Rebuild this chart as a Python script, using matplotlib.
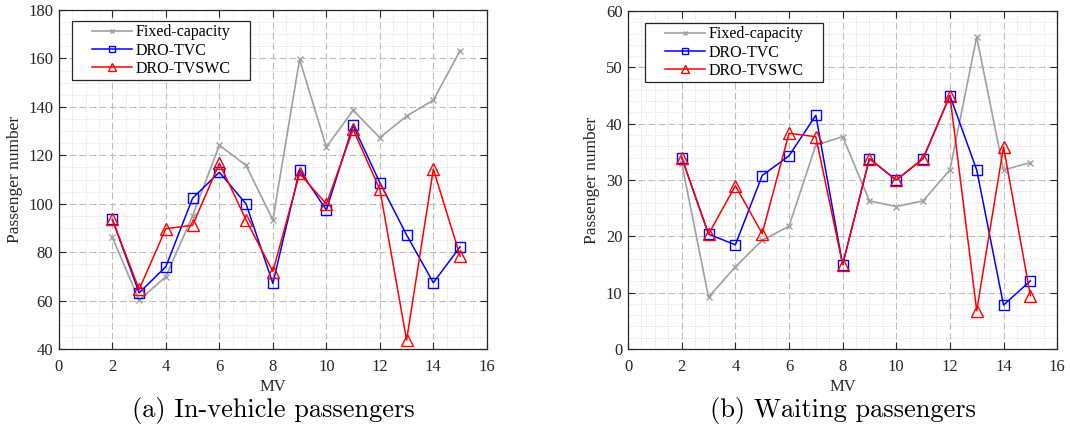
import matplotlib
matplotlib.use("Agg")
import matplotlib.pyplot as plt
from matplotlib.path import Path
from matplotlib.ticker import MultipleLocator

plt.rcParams["font.family"] = ["Liberation Serif", "DejaVu Serif"]

mv = [2, 3, 4, 5, 6, 7, 8, 9, 10, 11, 12, 13, 14, 15]

# in-vehicle passengers
inveh_fixed = [86.1, 60.2, 69.9, 95.0, 124.2, 115.8, 93.3, 159.6, 123.4, 138.6, 127.3, 136.2, 142.8, 163.2]
inveh_tvc = [93.5, 63.2, 74.0, 102.3, 113.0, 99.9, 67.1, 113.9, 97.4, 132.4, 108.7, 87.1, 67.4, 82.2]
inveh_tvswc = [93.5, 64.6, 89.7, 91.1, 116.7, 93.3, 72.0, 112.5, 99.9, 130.7, 105.9, 43.7, 114.3, 78.4]

# waiting passengers
wait_fixed = [33.0, 9.2, 14.6, 19.3, 21.8, 36.2, 37.7, 26.3, 25.3, 26.3, 31.8, 55.4, 31.8, 33.1]
wait_tvc = [34.0, 20.4, 18.5, 30.8, 34.3, 41.5, 15.0, 33.8, 30.0, 33.8, 45.0, 31.8, 7.8, 12.1]
wait_tvswc = [34.0, 20.4, 29.0, 20.5, 38.3, 37.7, 15.0, 33.8, 30.0, 33.8, 45.0, 6.8, 35.9, 9.5]

labels = ["Fixed-capacity", "DRO-TVC", "DRO-TVSWC"]
captions = ["(a) In-vehicle passengers", "(b) Waiting passengers"]

INK = "#262626"


def wide_box(x0, y0, width, height, mutation_size):
    # legend frame with extra room left and right only
    px = 1.05 * mutation_size
    verts = [(x0 - px, y0), (x0 + width + px, y0), (x0 + width + px, y0 + height),
             (x0 - px, y0 + height), (x0 - px, y0)]
    codes = [Path.MOVETO, Path.LINETO, Path.LINETO, Path.LINETO, Path.CLOSEPOLY]
    return Path(verts, codes)


fig = plt.figure(figsize=(10.7, 4.36), dpi=100)
ax1 = fig.add_axes([0.055, 0.1995, 0.400, 0.7775])
ax2 = fig.add_axes([0.587, 0.1995, 0.401, 0.775])


def draw(ax, fixed, tvc, tvswc, ylim, ymaj, ymin, anchor):
    ax.plot(mv, fixed, color="#a0a0a0", marker="x", ms=4, mew=1, lw=1.2, label=labels[0])
    ax.plot(mv, tvc, color="blue", marker="s", ms=7, mfc="none", mew=1, lw=1.1, label=labels[1])
    ax.plot(mv, tvswc, color="red", marker="^", ms=8, mfc="none", mew=1, lw=1.1, label=labels[2])
    ax.set_xlim(0, 16)
    ax.set_ylim(*ylim)
    ax.xaxis.set_major_locator(MultipleLocator(2))
    ax.xaxis.set_minor_locator(MultipleLocator(0.5))
    ax.yaxis.set_major_locator(MultipleLocator(ymaj))
    ax.yaxis.set_minor_locator(MultipleLocator(ymin))
    ax.grid(which="major", color="#bdbdbd", ls=(0, (6, 3)), lw=0.8)
    ax.grid(which="minor", color="#cfcfcf", ls=(0, (1, 2)), lw=0.6)
    ax.set_axisbelow(True)
    ax.tick_params(which="both", direction="in", top=True, right=True, labelsize=12, colors=INK)
    ax.tick_params(which="major", length=5)
    ax.tick_params(which="minor", length=0)
    ax.tick_params(axis="x", pad=7)
    ax.tick_params(axis="y", pad=4)
    for s in ax.spines.values():
        s.set_color(INK)
        s.set_linewidth(0.9)
    ax.set_xlabel("MV", fontsize=12, color=INK, labelpad=3)
    ax.set_ylabel("Passenger number", fontsize=12.5, color=INK, labelpad=4)
    leg = ax.legend(loc="upper left", fontsize=11.5, fancybox=False, edgecolor=INK,
                    framealpha=1, handlelength=2.5, borderpad=0.2, labelspacing=0.15,
                    handletextpad=0.2, borderaxespad=0, bbox_to_anchor=anchor)
    frame = leg.get_frame()
    frame.set_linewidth(0.9)
    frame.set_boxstyle(wide_box)
    for h, ms in zip(leg.legend_handles, (3, 5, 6)):
        h.set_markersize(ms)


draw(ax1, inveh_fixed, inveh_tvc, inveh_tvswc, (40, 180), 20, 5, (0.070, 0.9675))
draw(ax2, wait_fixed, wait_tvc, wait_tvswc, (0, 60), 10, 2, (0.0786, 0.965))

fig.text(0.255, 0.058, captions[0], ha="center", va="center", fontsize=19, family="cmr10")
fig.text(0.788, 0.058, captions[1], ha="center", va="center", fontsize=19, family="cmr10")

fig.savefig("out.png", dpi=100)
